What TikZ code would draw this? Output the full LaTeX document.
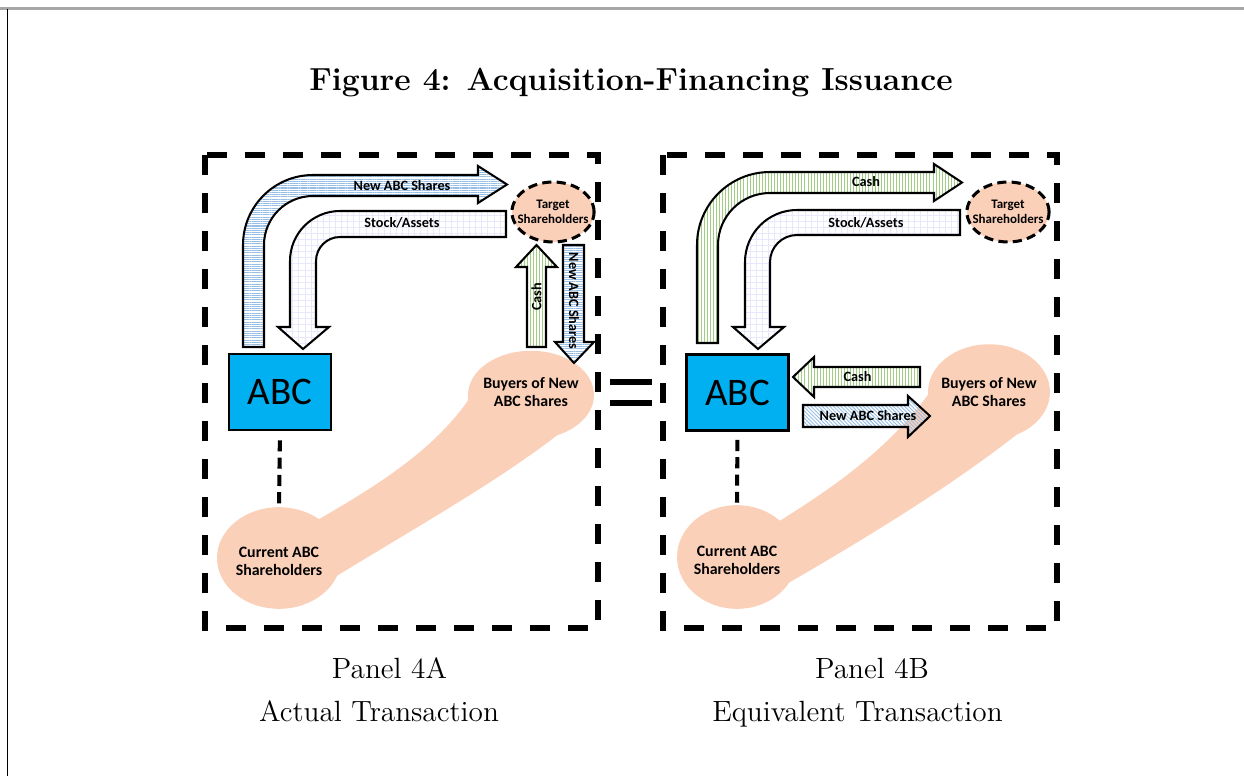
\documentclass[tikz,border=0pt]{standalone}
\usepackage{fontspec}
\newfontfamily\calibri{Carlito}
\usetikzlibrary{shapes.geometric,patterns.meta}
\definecolor{abccyan}{RGB}{0,176,240}
\definecolor{peche}{RGB}{251,208,185}
\definecolor{rayebleu}{RGB}{150,190,228}
\definecolor{rayevert}{RGB}{160,205,130}
\definecolor{grille}{RGB}{232,232,252}
\tikzset{
  cadre/.style={line width=2.5pt, dash pattern=on 9.8pt off 8.9pt},
  boiteabc/.style={draw, line width=1.3pt, fill=abccyan, minimum width=50.2pt,
    minimum height=37.4pt, inner sep=0pt, font=\calibri\fontsize{19.2}{22}\selectfont},
  bulle/.style={ellipse, fill=peche, inner sep=0pt},
  etiq bulle/.style={align=center, font=\calibri\bfseries\fontsize{7.8}{9}\selectfont},
  cible/.style={ellipse, draw, fill=peche, line width=1.5pt, dash pattern=on 4.5pt off 2.6pt,
    minimum width=40.4pt, minimum height=29.5pt, inner sep=0pt},
  etiq cible/.style={align=center, font=\calibri\bfseries\fontsize{6.4}{7.4}\selectfont},
  fleche/.style={draw, line width=1pt, line join=miter},
  bleue/.style={fleche, pattern={Lines[angle=0,distance=1.1pt,line width=0.5pt]}, pattern color=rayebleu},
  verte/.style={fleche, pattern={Lines[angle=90,distance=1.5pt,line width=0.4pt]}, pattern color=rayevert},
  quadrillee/.style={fleche, pattern={Hatch[angle=0,distance=3pt,line width=0.3pt]}, pattern color=grille},
  hachuree/.style={fleche, pattern={Lines[angle=-45,distance=1.3pt,line width=0.45pt]}, pattern color=rayebleu},
  etiq fleche/.style={inner sep=0pt, font=\calibri\bfseries\fontsize{7}{8}\selectfont},
  lien/.style={line width=2pt, dash pattern=on 5.5pt off 3pt},
  legende/.style={font=\fontsize{14.4}{17}\selectfont, anchor=base}
}
\begin{document}
\begin{tikzpicture}[x=0.492pt, y=-0.492pt]
\useasboundingbox (0,0) rectangle (1244,776);
% bord de page et titre
\draw[gray!70, line width=1pt] (0,8.5) -- (1244,8.5);
\draw[line width=0.5pt] (7.5,8.5) -- (7.5,776);
\node[legende, font=\fontsize{15.7}{18}\selectfont\bfseries] (titre) at (631,90) {Figure 4: Acquisition-Financing Issuance};

% cadres des deux panneaux
\draw[cadre] (205,155) rectangle (598,628);
\draw[cadre] (663,155) rectangle (1057,628);
\draw[line width=2.5pt] (610,382) -- (652,382);
\draw[line width=2.5pt] (610,403) -- (652,403);

% Panneau 4A : bandes des actionnaires
\fill[peche] (300,530) .. controls (370,490) and (440,450) .. (478,385)
  -- (560,433) .. controls (500,480) and (420,525) .. (330,580) -- cycle;
\node[bulle, minimum width=61pt, minimum height=50pt,
  label={[etiq bulle, yshift=-1.5pt]center:Current ABC\\Shareholders}] (actuelsA) at (279,558) {};
\node[bulle, minimum width=62pt, minimum height=43.5pt,
  label={[etiq bulle, yshift=1.5pt]center:Buyers of New\\ABC Shares}] (acheteursA) at (531,395) {};
\node[boiteabc] (abcA) at (280,392) {ABC};
\node[cible, label={[etiq cible]center:Target\\Shareholders}] (cibleA) at (553,212) {};
\draw[lien, shorten <=4.4pt, shorten >=1pt] (abcA.south) -- (actuelsA.north);

% Panneau 4A : fleches
\draw[bleue] (243,347) -- (243,245) arc[start angle=180, end angle=270, radius=70]
  -- (478,175) -- (478,166) -- (507,184.5) -- (478,203) -- (478,196)
  -- (313,196) arc[start angle=270, end angle=180, radius=49] -- (264,347) -- cycle;
\draw[quadrillee] (506,211) -- (340,211) arc[start angle=270, end angle=180, radius=50]
  -- (290,327) -- (278,327) -- (303,349) -- (329,327) -- (316,327)
  -- (316,261) arc[start angle=180, end angle=270, radius=24] -- (506,237) -- cycle;
\draw[verte] (527,347) -- (527,267) -- (516,267) -- (536.5,245) -- (557,267)
  -- (546,267) -- (546,347) -- cycle;
\draw[bleue] (563,245) -- (584,245) -- (584,342) -- (594,342) -- (574,363)
  -- (555,342) -- (563,342) -- cycle;
\node[etiq fleche] (actionsA) at (402,185.5) {New ABC Shares};
\node[etiq fleche] (titresA) at (402,223) {Stock/Assets};
\node[etiq fleche, rotate=90] (cashA) at (536.5,297) {Cash};
\node[etiq fleche, rotate=-90] (nouvA) at (574,301) {New ABC Shares};

% Panneau 4B : bandes des actionnaires
\fill[peche] (765,530) .. controls (830,490) and (890,450) .. (935,385)
  -- (1025,428) .. controls (960,480) and (880,530) .. (785,585) -- cycle;
\node[bulle, minimum width=59pt, minimum height=51pt,
  label={[etiq bulle, yshift=-1.5pt]center:Current ABC\\Shareholders}] (actuelsB) at (737,557) {};
\node[bulle, minimum width=60pt, minimum height=47pt,
  label={[etiq bulle]center:Buyers of New\\ABC Shares}] (acheteursB) at (989,392) {};
\node[boiteabc] (abcB) at (737.5,392.5) {ABC};
\node[cible, label={[etiq cible]center:Target\\Shareholders}] (cibleB) at (1008,212) {};
\draw[lien, shorten <=4pt, shorten >=1pt] (abcB.south) -- (actuelsB.north);

% Panneau 4B : fleches
\draw[verte] (697,343) -- (697,245) arc[start angle=180, end angle=270, radius=73]
  -- (934,172) -- (934,164) -- (962,182.5) -- (934,201) -- (934,193)
  -- (770,193) arc[start angle=270, end angle=180, radius=52] -- (718,343) -- cycle;
\draw[quadrillee] (960,210) -- (797,210) arc[start angle=270, end angle=180, radius=52]
  -- (745,327) -- (733,327) -- (758,349) -- (784,327) -- (770,327)
  -- (770,262) arc[start angle=180, end angle=270, radius=27] -- (960,235) -- cycle;
\draw[verte] (920,367) -- (814,367) -- (814,357) -- (793,377) -- (814,397)
  -- (814,387) -- (920,387) -- cycle;
\draw[hachuree] (803,405) -- (908,405) -- (908,396) -- (930,416) -- (908,437)
  -- (908,427) -- (803,427) -- cycle;
\node[etiq fleche] (cashB) at (866,182) {Cash};
\node[etiq fleche] (titresB) at (866,222.5) {Stock/Assets};
\node[etiq fleche] (cashB2) at (857.5,377) {Cash};
\node[etiq fleche] (nouvB) at (868,416) {New ABC Shares};

% legendes des panneaux
\node[legende] (panneauA) at (389.5,678) {Panel 4A};
\node[legende] (sousA) at (379,721) {Actual Transaction};
\node[legende] (panneauB) at (872,678) {Panel 4B};
\node[legende] (sousB) at (857.5,721) {Equivalent Transaction};
\end{tikzpicture}
\end{document}
